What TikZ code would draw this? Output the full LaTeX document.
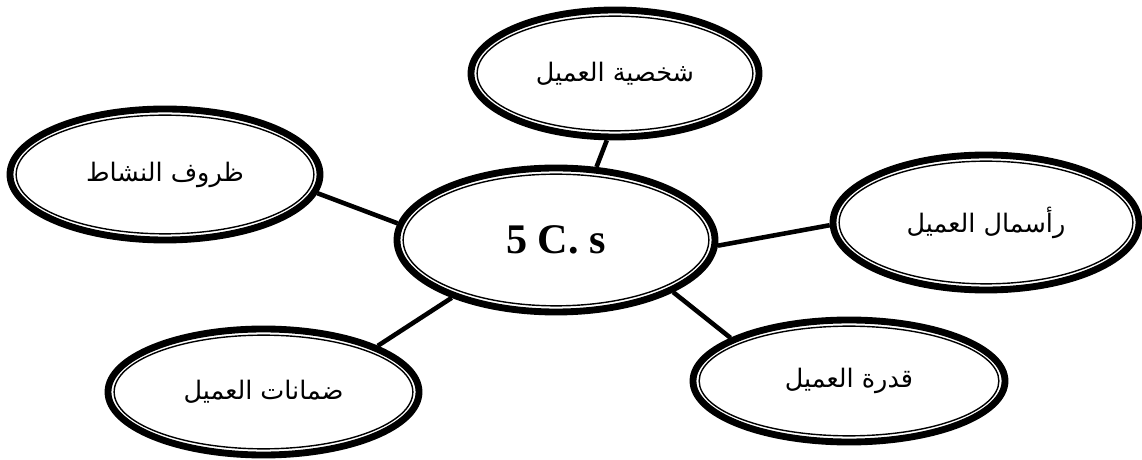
\documentclass[tikz,border=0pt]{standalone}
\usepackage{fontspec}
\setmainfont{Liberation Serif}
\newfontfamily\arabicfont[Script=Arabic]{DejaVu Sans}
\TeXXeTstate=1
\usetikzlibrary{shapes.geometric,calc}
\begin{document}
\begin{tikzpicture}[
  ring/.style={ellipse, draw, line width=3.9pt, inner sep=0pt,
    font=\arabicfont\fontsize{14.5}{17}\selectfont,
    path picture={\draw[line width=0.8pt] let \p1=(path picture bounding box.north east), \p2=(path picture bounding box.center) in (\p2) ellipse ({\x1-\x2-3.5pt} and {\y1-\y2-3.5pt});}},
  link/.style={line width=2.6pt}]
\useasboundingbox (0,0) rectangle (22.84,9.18);
\node[ring, minimum width=6.36cm, minimum height=2.88cm, font=\bfseries\fontsize{24}{28}\selectfont] (core) at (11.12, 4.38) {5 C. s};
\node[ring, minimum width=6.2cm, minimum height=2.62cm] (activity) at (3.30, 5.69) {\beginR ظروف النشاط\endR};
\node[ring, minimum width=5.76cm, minimum height=2.54cm] (character) at (12.30, 7.71) {\beginR شخصية العميل\endR};
\node[ring, minimum width=6.12cm, minimum height=2.70cm] (capital) at (19.72, 4.73) {\beginR رأسمال العميل\endR};
\node[ring, minimum width=6.24cm, minimum height=2.44cm] (capacity) at (16.98, 1.56) {\beginR قدرة العميل\endR};
\node[ring, minimum width=6.22cm, minimum height=2.52cm] (collateral) at (5.27, 1.34) {\beginR ضمانات العميل\endR};
\draw[link] (activity.-7.6) -- (core.174);
\draw[link] (character.263) -- (core.61);
\draw[link] (core.-2.4) -- (capital.181);
\draw[link] (core.209) -- (collateral.22.5);
\draw[link] (core.-24.4) -- (capacity.160.5);
\end{tikzpicture}
\end{document}
